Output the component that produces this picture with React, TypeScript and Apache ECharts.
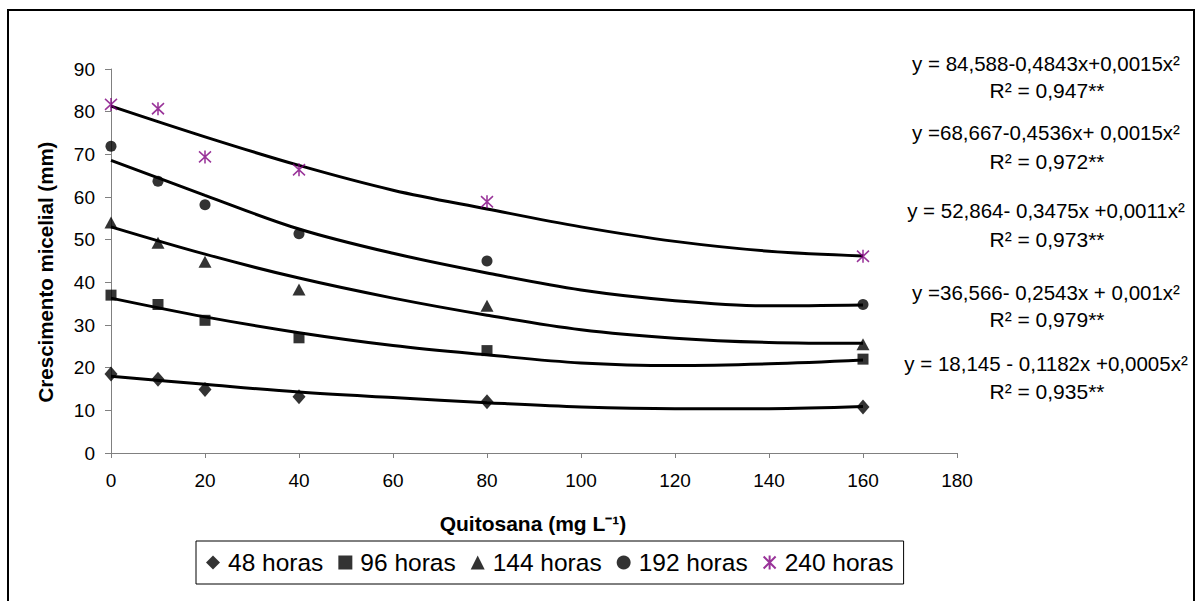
import React, { useEffect, useRef } from 'react';
import * as echarts from 'echarts';

// Observed doses (mg L-1)
const doses = [0, 10, 20, 40, 80, 160];
// Observed mycelial growth (mm)
const h48 = [18.5, 17.3, 14.9, 13.2, 12.0, 10.8];
const h96 = [37.0, 34.8, 31.1, 27.0, 24.0, 22.0];
const h144 = [54.0, 49.3, 44.8, 38.3, 34.5, 25.5];
const h192 = [71.9, 63.7, 58.2, 51.4, 45.0, 34.8];
const h240 = [81.7, 80.7, 69.4, 66.4, 58.9, 46.1];

// Trend lines
const trendX = [0, 20, 40, 60, 80, 100, 120, 140, 160];
const t48 = [18.0, 16.1, 14.3, 13.0, 11.8, 10.8, 10.4, 10.4, 10.9];
const t96 = [36.3, 31.9, 28.2, 25.2, 23.0, 21.1, 20.5, 20.9, 21.8];
const t144 = [53.0, 46.6, 41.0, 36.3, 32.3, 28.9, 26.9, 25.9, 25.7];
const t192 = [68.6, 60.4, 52.5, 46.8, 42.2, 38.2, 35.7, 34.5, 34.7];
const t240 = [81.3, 74.1, 67.4, 61.6, 57.2, 53.0, 49.6, 47.3, 46.2];

const seriesNames = ['48 horas', '96 horas', '144 horas', '192 horas', '240 horas'];

const equations = [
  'y = 84,588-0,4843x+0,0015x²',
  'y =68,667-0,4536x+ 0,0015x²',
  'y = 52,864- 0,3475x +0,0011x²',
  'y =36,566- 0,2543x + 0,001x²',
  'y = 18,145 - 0,1182x +0,0005x²',
];
const r2Labels = ['R² = 0,947**', 'R² = 0,972**', 'R² = 0,973**', 'R² = 0,979**', 'R² = 0,935**'];

const xTitle = 'Quitosana (mg L⁻¹)';
const yTitle = 'Crescimento micelial (mm)';

const FONT = '"Liberation Sans", Arial, sans-serif';

export default function App() {
  const ref = useRef<HTMLDivElement>(null);
  useEffect(() => {
    document.body.style.margin = '0';
    const chart = echarts.init(ref.current!, null, { renderer: 'svg' });

    const pts = (ys: number[]) => doses.map((x, i) => [x, ys[i]]);
    const tr = (ys: number[]) => trendX.map((x, i) => [x, ys[i]]);

    const starPath = 'path://M0,1L12,13M0,13L12,1M6,0L6,14';

    const trendSeries = [t48, t96, t144, t192, t240].map((d, i) => ({
      name: 'trend' + i,
      type: 'line',
      data: tr(d),
      smooth: 0.35,
      showSymbol: false,
      symbol: 'none',
      lineStyle: { color: '#000', width: 3 },
      z: 2,
      silent: true,
    }));

    const markerDefs: any[] = [
      { data: h48, symbol: 'diamond', size: [13, 15], style: { color: '#000' } },
      { data: h96, symbol: 'rect', size: 11, style: { color: '#000' } },
      { data: h144, symbol: 'triangle', size: [13, 12], style: { color: '#000' } },
      { data: h192, symbol: 'circle', size: 11, style: { color: '#000' } },
      {
        data: h240,
        symbol: starPath,
        size: [12, 13],
        style: { color: 'rgba(0,0,0,0)', borderColor: '#800080', borderWidth: 1.6 },
      },
    ];

    const scatterSeries = markerDefs.map((m, i) => ({
      name: seriesNames[i],
      type: 'scatter',
      data: pts(m.data),
      symbol: m.symbol,
      symbolSize: m.size,
      itemStyle: m.style,
      z: 5,
    }));

    const eqY = [63, 132, 210, 292, 363];
    const r2Y = [90, 161, 239, 319, 391];
    const eqGraphics: any[] = [];
    equations.forEach((t, i) => {
      eqGraphics.push({
        type: 'text',
        x: 1046,
        y: eqY[i],
        style: { text: t, fill: '#000', font: `20.5px ${FONT}`, textAlign: 'center', textVerticalAlign: 'middle' },
      });
      eqGraphics.push({
        type: 'text',
        x: 1047,
        y: r2Y[i],
        style: { text: r2Labels[i], fill: '#000', font: `21px ${FONT}`, textAlign: 'center', textVerticalAlign: 'middle' },
      });
    });

    chart.setOption({
      animation: false,
      backgroundColor: '#fff',
      textStyle: { fontFamily: FONT },
      grid: { left: 111, top: 69, right: 243, bottom: 148 },
      xAxis: {
        type: 'value',
        min: 0,
        max: 180,
        interval: 20,
        splitLine: { show: false },
        axisLine: { lineStyle: { color: '#808080', width: 1 } },
        axisTick: { length: 5, lineStyle: { color: '#808080' } },
        axisLabel: { color: '#000', fontSize: 19, margin: 18, fontFamily: FONT },
      },
      yAxis: {
        type: 'value',
        min: 0,
        max: 90,
        interval: 10,
        splitLine: { show: false },
        axisLine: { show: true, lineStyle: { color: '#808080', width: 1 } },
        axisTick: { show: true, length: 6, lineStyle: { color: '#808080' } },
        axisLabel: { color: '#000', fontSize: 19, margin: 16, fontFamily: FONT },
      },
      legend: {
        data: seriesNames,
        left: 196,
        top: 541,
        orient: 'horizontal',
        padding: [9, 10],
        itemGap: 15,
        itemWidth: 14,
        itemHeight: 14,
        borderColor: '#000',
        borderWidth: 1,
        textStyle: { color: '#000', fontSize: 24.5, fontFamily: FONT, padding: [0, 0, 0, 3] },
      },
      graphic: [
        {
          type: 'rect',
          shape: { x: 8, y: 10, width: 1186, height: 600 },
          style: { fill: 'none', stroke: '#000', lineWidth: 2 },
          silent: true,
        },
        {
          type: 'text',
          x: 45,
          y: 272,
          rotation: Math.PI / 2,
          style: { text: yTitle, fill: '#000', font: `bold 20.5px ${FONT}`, textAlign: 'center', textVerticalAlign: 'middle' },
        },
        {
          type: 'text',
          x: 533,
          y: 523,
          style: { text: xTitle, fill: '#000', font: `bold 21px ${FONT}`, textAlign: 'center', textVerticalAlign: 'middle' },
        },
        ...eqGraphics,
      ],
      series: [...trendSeries, ...scatterSeries],
    });

    return () => chart.dispose();
  }, []);
  return <div ref={ref} style={{ width: 1200, height: 601 }} />;
}
